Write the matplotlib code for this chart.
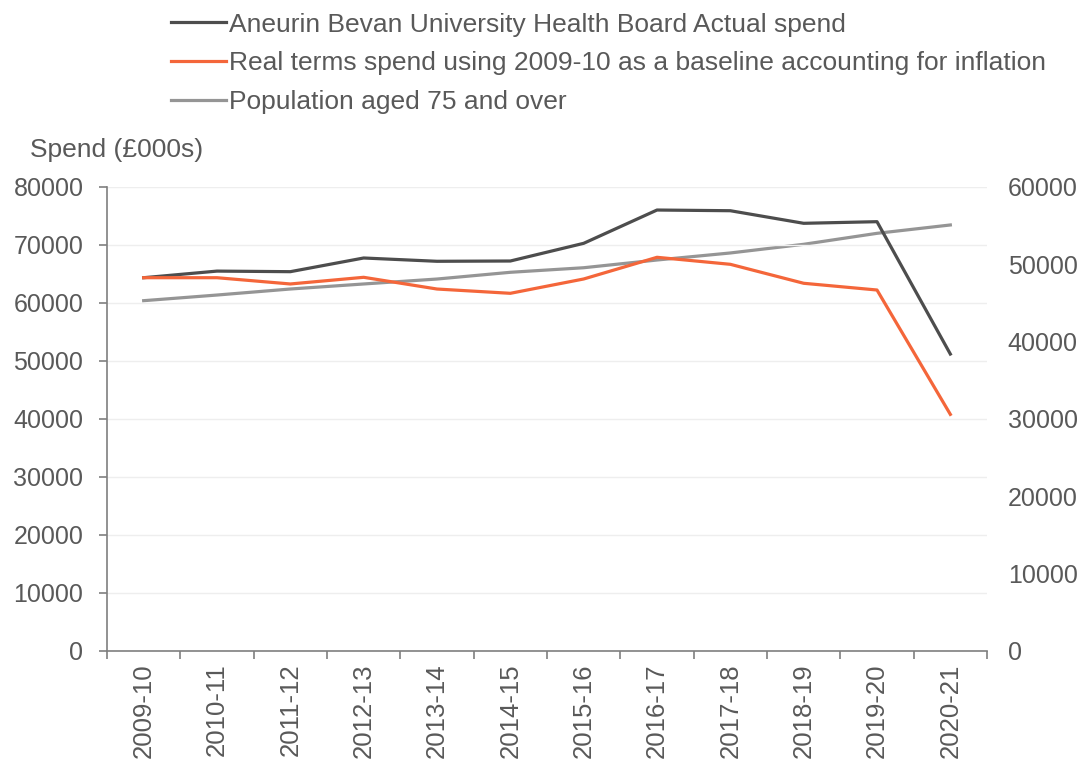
import numpy as np
import matplotlib
matplotlib.use("Agg")
import matplotlib.pyplot as plt

years = ['2009-10', '2010-11', '2011-12', '2012-13', '2013-14', '2014-15',
         '2015-16', '2016-17', '2017-18', '2018-19', '2019-20', '2020-21']
actual_spend = [64360, 65500, 65400, 67760, 67190, 67240,
                70290, 76030, 75910, 73740, 74020, 51200]
real_terms = [64360, 64360, 63280, 64430, 62410, 61670,
              64140, 67880, 66670, 63400, 62240, 40800]
pop_75 = [45300, 46030, 46810, 47460, 48100, 48970,
          49560, 50560, 51470, 52590, 54010, 55090]

names = ['Aneurin Bevan University Health Board Actual spend',
         'Real terms spend using 2009-10 as a baseline accounting for inflation',
         'Population aged 75 and over']
colors = ['#4D4D4D', '#F4663A', '#959595']
txt = '#595959'

plt.rcParams['font.family'] = ['Liberation Sans', 'DejaVu Sans']

fig = plt.figure(figsize=(10.78, 7.67), dpi=100)
ax = fig.add_axes([107/1078, 116/767, 880/1078, 464/767])
ax2 = ax.twinx()

x = np.arange(len(years))
l1, = ax.plot(x, actual_spend, color=colors[0], lw=2.3, label=names[0], zorder=3)
l2, = ax.plot(x, real_terms, color=colors[1], lw=2.3, label=names[1], zorder=3)
l3, = ax2.plot(x, pop_75, color=colors[2], lw=2.3, label=names[2])

# left axis
ax.set_ylim(0, 80000)
ax.set_yticks(np.arange(0, 80001, 10000))
ax.set_xlim(-0.5, len(years) - 0.5)
ax.set_xticks(x)
ax.set_xticklabels(years, rotation=90)
ax.set_xticks(np.arange(-0.5, len(years)), minor=True)
ax.tick_params(axis='x', which='major', length=0, pad=9, labelsize=18.5, labelcolor=txt)
ax.tick_params(axis='x', which='minor', length=6, color='#7F7F7F', width=1.2)
ax.tick_params(axis='y', length=6, color='#7F7F7F', width=1.2, labelsize=18,
               labelcolor=txt, pad=11)
ax.grid(axis='y', color='#EEEEEE', lw=1)
ax.set_axisbelow(True)
for s in ['top', 'right']:
    ax.spines[s].set_visible(False)
for s in ['left', 'bottom']:
    ax.spines[s].set_color('#7F7F7F')
    ax.spines[s].set_linewidth(1.2)

# right axis
ax2.set_ylim(0, 60000)
ax2.set_yticks(np.arange(0, 60001, 10000))
ax2.tick_params(axis='y', length=0, labelsize=18, labelcolor=txt, pad=15)
for s in ax2.spines.values():
    s.set_visible(False)
ax.set_zorder(ax2.get_zorder() + 1)
ax.patch.set_visible(False)

fig.text(30/1078, 1 - 150/767, 'Spend (£000s)', fontsize=19, color=txt, va='center', ha='left')

leg = fig.legend(handles=[l1, l2, l3], loc='upper left', bbox_to_anchor=(160/1078, 1 - 2/767),
                 frameon=False, fontsize=19, handlelength=2.1, handletextpad=0.12,
                 labelspacing=0.56, borderaxespad=0)
for t in leg.get_texts():
    t.set_color(txt)

fig.savefig('out.png', dpi=100)
